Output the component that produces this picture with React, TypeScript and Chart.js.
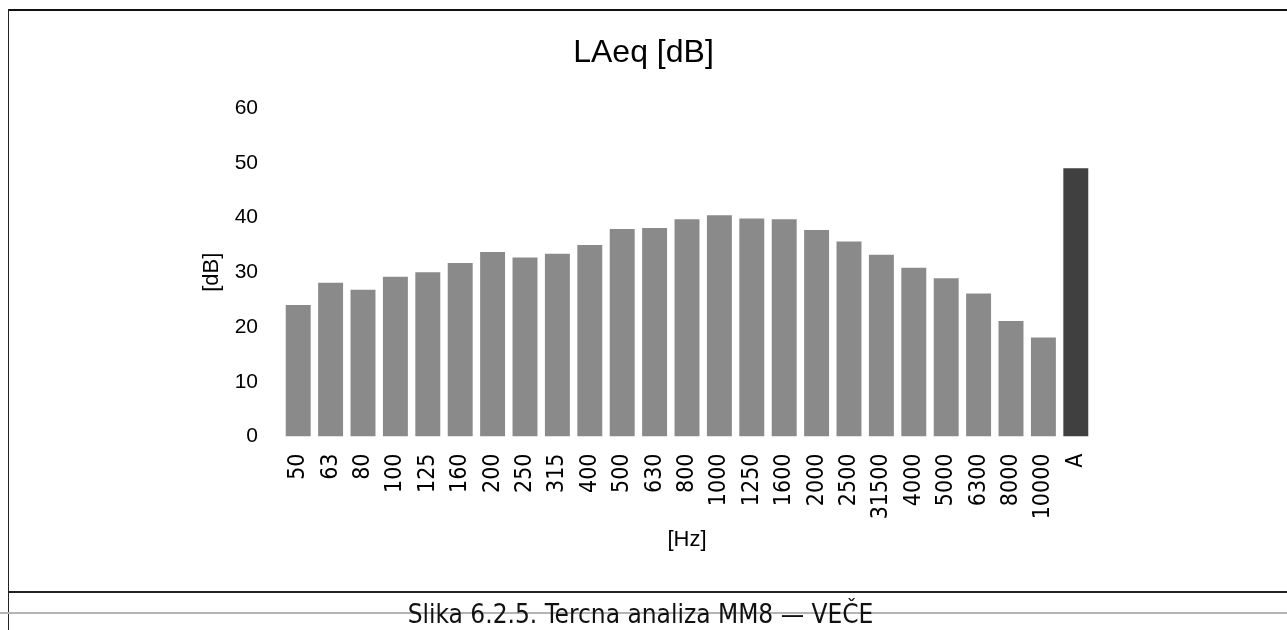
import React, { useEffect, useRef } from "react";
import { Chart, registerables } from "chart.js";

Chart.register(...registerables);

const categories = [
  "50", "63", "80", "100", "125", "160", "200", "250", "315", "400",
  "500", "630", "800", "1000", "1250", "1600", "2000", "2500", "31500", "4000",
  "5000", "6300", "8000", "10000", "A",
];
const laeqValues = [
  24.0, 28.1, 26.8, 29.2, 30.0, 31.7, 33.7, 32.7, 33.4, 35.0,
  37.9, 38.1, 39.7, 40.4, 39.8, 39.7, 37.7, 35.6, 33.2, 30.8,
  28.9, 26.1, 21.1, 18.1, 49.0,
];
const yTickValues = [0, 10, 20, 30, 40, 50, 60];
const chartTitle = "LAeq [dB]";
const xAxisTitle = "[Hz]";
const yAxisTitle = "[dB]";
const captionText = "Slika 6.2.5. Tercna analiza MM8 — VEČE";

const BAR_GRAY = "#8a8a8a";
const BAR_DARK = "#404040";
const SANS = "'Liberation Sans', Arial, sans-serif";
const NARROW = "'Liberation Sans Narrow', 'DejaVu Sans Condensed', 'Liberation Sans', sans-serif";

export default function App() {
  const canvasRef = useRef<HTMLCanvasElement | null>(null);

  useEffect(() => {
    const canvas = canvasRef.current;
    if (!canvas) return;
    const chart = new Chart(canvas, {
      type: "bar",
      data: {
        labels: categories,
        datasets: [
          {
            label: chartTitle,
            data: laeqValues,
            backgroundColor: categories.map((c) => (c === "A" ? BAR_DARK : BAR_GRAY)),
            borderWidth: 0,
            barPercentage: 0.77,
            categoryPercentage: 1.0,
          },
        ],
      },
      options: {
        animation: false,
        responsive: false,
        maintainAspectRatio: false,
        devicePixelRatio: 1,
        layout: { padding: { left: 195, right: 195, top: 0, bottom: 36.8 } },
        plugins: {
          legend: { display: false },
          tooltip: { enabled: false },
          title: {
            display: true,
            text: chartTitle,
            color: "#000",
            font: { family: SANS, size: 32, weight: "normal" },
            padding: { top: 24, bottom: 35.6 },
          },
        },
        scales: {
          x: {
            grid: { display: false, drawTicks: false },
            border: { display: false },
            ticks: {
              autoSkip: false,
              maxRotation: 90,
              minRotation: 90,
              padding: 17,
              color: "#000",
              font: { family: NARROW, size: 23 },
            },
            title: {
              display: true,
              text: xAxisTitle,
              color: "#000",
              font: { family: SANS, size: 22 },
              padding: { top: 0, bottom: 0 },
            },
            afterFit: (s: any) => {
              s.height = 116.7;
            },
          },
          y: {
            min: 0,
            max: 60,
            grid: { display: false, drawTicks: false },
            border: { display: false },
            ticks: {
              stepSize: 10,
              padding: 24,
              color: "#000",
              font: { family: SANS, size: 21 },
            },
            afterBuildTicks: (s: any) => {
              s.ticks = yTickValues.map((v) => ({ value: v }));
            },
            title: {
              display: true,
              text: yAxisTitle,
              color: "#000",
              font: { family: SANS, size: 22 },
              padding: { top: 4, bottom: 0 },
            },
            afterFit: (s: any) => {
              s.width = 87;
            },
          },
        },
      },
    });
    return () => chart.destroy();
  }, []);

  return (
    <div
      style={{
        position: "absolute",
        left: 0,
        top: 0,
        width: 1287,
        height: 630,
        background: "#fff",
        overflow: "hidden",
      }}
    >
      <canvas
        ref={canvasRef}
        width={1287}
        height={580}
        style={{ position: "absolute", left: 0, top: 10, width: 1287, height: 580 }}
      />
      <div style={{ position: "absolute", left: 8, top: 9, width: 1279, height: 2, background: "#111" }} />
      <div style={{ position: "absolute", left: 8, top: 9, width: 1, height: 621, background: "#222" }} />
      <div style={{ position: "absolute", left: 9, top: 591, width: 1278, height: 2, background: "#222" }} />
      <div style={{ position: "absolute", left: 0, top: 612, width: 1287, height: 2, background: "#b4b4b4" }} />
      <div
        style={{
          position: "absolute",
          left: 0,
          top: 598,
          width: 1287,
          height: 32,
          lineHeight: "32px",
          textAlign: "center",
          fontFamily: NARROW,
          fontSize: 26,
          color: "#111",
        }}
      >
        <span style={{ marginLeft: -6 }}>{captionText}</span>
      </div>
    </div>
  );
}
